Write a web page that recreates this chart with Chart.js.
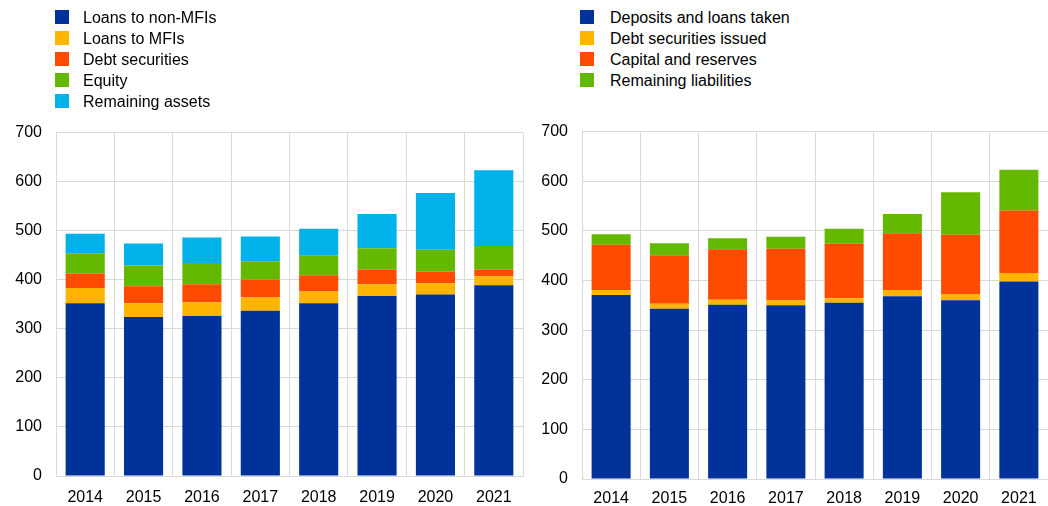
<!DOCTYPE html>
<html><head><meta charset="utf-8">
<script src="https://cdn.jsdelivr.net/npm/chart.js@4/dist/chart.umd.min.js"></script>
<style>
body{margin:0;width:1048px;height:506px;position:relative;background:#fff;font-family:Arial,"Liberation Sans",sans-serif;overflow:hidden}
.legend{position:absolute;top:6.5px;font-size:16px;color:#000;z-index:2}
.legend div{height:21px;line-height:21px;position:relative;padding-left:28px;white-space:nowrap}
.legend span{position:absolute;left:0;top:3.5px;width:14px;height:14px}
#ll{left:55px}
#lr{left:580px;}
#lr div{padding-left:30px}
#wl{position:absolute;left:0;top:109px;width:525px;height:397px}
#wr{position:absolute;left:525px;top:108px;width:523px;height:398px}
</style></head>
<body>
<div class="legend" id="ll"></div>
<div class="legend" id="lr"></div>
<div id="wl"><canvas id="cl"></canvas></div>
<div id="wr"><canvas id="cr"></canvas></div>
<script>
const years = ["2014","2015","2016","2017","2018","2019","2020","2021"];
const yTicks = [0,100,200,300,400,500,600,700];

// Assets
const assetLabels = ["Loans to non-MFIs","Loans to MFIs","Debt securities","Equity","Remaining assets"];
const loansNonMFI   = [352,324,326,337,352,367,370,389];
const loansMFI      = [31,28,28,27,24,24,23,18];
const debtSecAssets = [30,35,37,36,33,30,24,14];
const equity        = [41,42,43,38,40,43,44,48];
const remainingAssets = [40,45,52,50,55,70,116,154];

// Liabilities
const liabLabels = ["Deposits and loans taken","Debt securities issued","Capital and reserves","Remaining liabilities"];
const deposits      = [371,343,351,350,355,368,360,398];
const debtIssued    = [10,10,10,10,9,13,13,17];
const capital       = [91,98,102,104,110,114,119,126];
const remainingLiab = [21,24,22,24,30,39,86,82];

const colors = ["#003299","#FFB400","#FF4B00","#65B800","#00B1EA"];

function legend(id, labels){
  const el = document.getElementById(id);
  labels.forEach((l,i)=>{
    const d = document.createElement('div');
    const s = document.createElement('span');
    s.style.background = colors[i];
    d.appendChild(s);
    d.appendChild(document.createTextNode(l));
    el.appendChild(d);
  });
}
legend('ll', assetLabels);
legend('lr', liabLabels);

function makeChart(id, labels, series, cfg){
  const datasets = series.map((d,i)=>({
    label: labels[i], data: d, backgroundColor: colors[i], borderWidth: 0,
    barPercentage: 0.67, categoryPercentage: 1
  }));
  return new Chart(document.getElementById(id), {
    type: 'bar',
    data: { labels: years, datasets },
    options: {
      responsive: true, maintainAspectRatio: false, animation: false,
      layout: { padding: { top: cfg.top, right: cfg.right, left: 0, bottom: 0 } },
      plugins: { legend: { display: false }, tooltip: { enabled: false } },
      scales: {
        x: {
          stacked: true,
          grid: { color: "#d9d9d9", drawTicks: false, offset: true },
          border: { color: "#d9d9d9" },
          ticks: { color: "#000", font: { family: "Arial, 'Liberation Sans'", size: 16 }, padding: cfg.xpad, maxRotation: 0 },
          afterFit: s => { s.height = cfg.xh; }
        },
        y: {
          stacked: true, min: 0, max: 700,
          afterBuildTicks: s => { s.ticks = yTicks.map(v => ({ value: v })); },
          grid: { color: "#d9d9d9", drawTicks: false },
          border: { color: "#d9d9d9" },
          ticks: { color: "#000", font: { family: "Arial, 'Liberation Sans'", size: 16 }, padding: 14 },
          afterFit: s => { s.width = cfg.yw; }
        }
      }
    }
  });
}

makeChart('cl', assetLabels, [loansNonMFI, loansMFI, debtSecAssets, equity, remainingAssets],
  { top: 2, right: 2, xh: 30, yw: 56, xpad: 12 });
makeChart('cr', liabLabels, [deposits, debtIssued, capital, remainingLiab],
  { top: 1, right: 0, xh: 27, yw: 57, xpad: 10 });
</script>
</body></html>
